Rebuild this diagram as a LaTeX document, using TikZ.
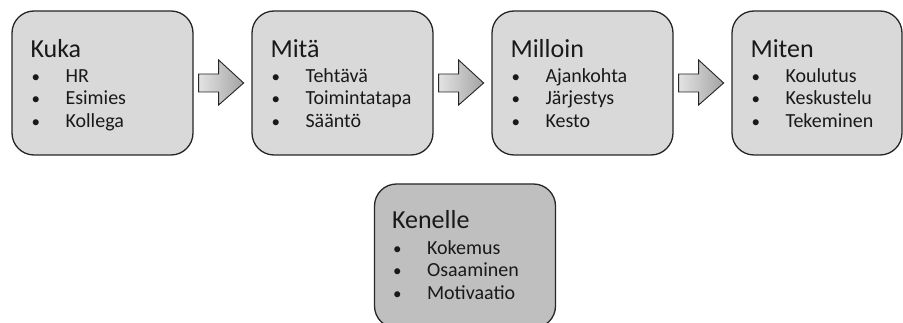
\documentclass[tikz,border=0pt]{standalone}
\usepackage{fontspec}
\setmainfont{Carlito}
\usetikzlibrary{calc}

\definecolor{boxfill}{HTML}{D9D9D9}
\definecolor{lowfill}{HTML}{BFBFBF}
\definecolor{boxline}{HTML}{262626}

\tikzset{
  stagebox/.style={draw=boxline, line width=1.3pt, fill=boxfill,
    rounded corners=22pt, minimum width=181pt, minimum height=144pt,
    inner sep=0pt},
  headtext/.style={anchor=base west, inner sep=0pt, text=black!90, font=\fontsize{26}{30}\selectfont},
  itemtext/.style={anchor=base west, inner sep=0pt, text=black!90, font=\fontsize{20}{24}\selectfont},
  arrowshade/.style={draw=boxline, line width=0.9pt,
    left color=gray!22, right color=gray!72}
}

\newcommand\bul{\makebox[34pt][l]{\fontsize{17}{20}\selectfont\textbullet}}

\newcommand\blockarrow[1]{%
  \path[arrowshade] ($(#1)+(5,0)$) ++(0,-9) -- ++(20,0) -- ++(0,-14)
    -- ++(25,23) -- ++(-25,22) -- ++(0,-13) -- ++(-20,0) -- cycle;}

\begin{document}
\begin{tikzpicture}[x=1pt,y=-1pt]
  \useasboundingbox (0,0) rectangle (903,323);
  \clip (0,0) rectangle (903,323);

  \node[stagebox] (Kuka) at (102.5,83) {};
  \node[stagebox] (Mita) at (342.5,83) {};
  \node[stagebox] (Milloin) at (582.5,83) {};
  \node[stagebox, minimum width=170pt] (Miten) at (817,83) {};
  \node[stagebox, fill=lowfill] (Kenelle) at (465,256) {};

  % top row
  \node[headtext] (KukaHead) at ($(Kuka.north west)+(19,47)$) {Kuka};
  \node[itemtext] (KukaA) at ($(Kuka.north west)+(20,72)$) {\bul HR};
  \node[itemtext] (KukaB) at ($(Kuka.north west)+(20,94)$) {\bul Esimies};
  \node[itemtext] (KukaC) at ($(Kuka.north west)+(20,117)$) {\bul Kollega};

  \node[headtext] (MitaHead) at ($(Mita.north west)+(19,47)$) {Mitä};
  \node[itemtext] (MitaA) at ($(Mita.north west)+(20,72)$) {\bul Tehtävä};
  \node[itemtext] (MitaB) at ($(Mita.north west)+(20,94)$) {\bul Toimintatapa};
  \node[itemtext] (MitaC) at ($(Mita.north west)+(20,117)$) {\bul Sääntö};

  \node[headtext] (MilloinHead) at ($(Milloin.north west)+(19,47)$) {Milloin};
  \node[itemtext] (MilloinA) at ($(Milloin.north west)+(20,72)$) {\bul Ajankohta};
  \node[itemtext] (MilloinB) at ($(Milloin.north west)+(20,94)$) {\bul Järjestys};
  \node[itemtext] (MilloinC) at ($(Milloin.north west)+(20,117)$) {\bul Kesto};

  \node[headtext] (MitenHead) at ($(Miten.north west)+(19,47)$) {Miten};
  \node[itemtext] (MitenA) at ($(Miten.north west)+(20,72)$) {\bul Koulutus};
  \node[itemtext] (MitenB) at ($(Miten.north west)+(20,94)$) {\bul Keskustelu};
  \node[itemtext] (MitenC) at ($(Miten.north west)+(20,117)$) {\bul Tekeminen};

  % bottom box
  \node[headtext] (KenelleHead) at ($(Kenelle.north west)+(18,45)$) {Kenelle};
  \node[itemtext] (KenelleA) at ($(Kenelle.north west)+(19,71)$) {\bul Kokemus};
  \node[itemtext] (KenelleB) at ($(Kenelle.north west)+(19,93)$) {\bul Osaaminen};
  \node[itemtext] (KenelleC) at ($(Kenelle.north west)+(19,116)$) {\bul Motivaatio};

  \blockarrow{Kuka.east}
  \blockarrow{Mita.east}
  \blockarrow{Milloin.east}

\end{tikzpicture}
\end{document}
